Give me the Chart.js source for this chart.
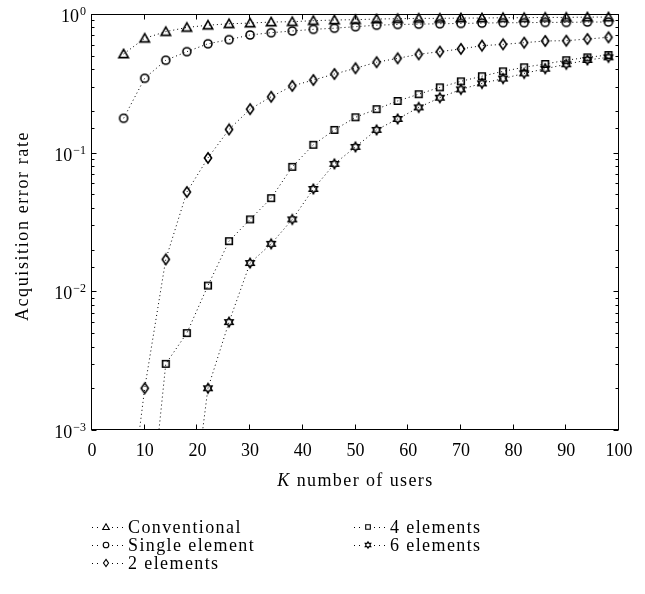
<!DOCTYPE html>
<html>
<head>
<meta charset="utf-8">
<script src="https://cdn.jsdelivr.net/npm/chart.js@4.4.1/dist/chart.umd.min.js"></script>
<style>
  html, body { margin: 0; padding: 0; background: #fff; }
  #wrap { position: relative; width: 645px; height: 594px; }
  #legend { position: absolute; left: 0; top: 0; font-family: 'Liberation Serif', serif; font-size: 18px; letter-spacing: 1.4px; color: #000; }
  .item { position: absolute; height: 18px; line-height: 18px; white-space: nowrap; }
  .item canvas { position: absolute; left: 0; top: 1px; }
  .item span { position: absolute; top: 0; left: 37px; }
</style>
</head>
<body>
<div id="wrap">
  <canvas id="chart" width="645" height="594"></canvas>
  <div id="legend"></div>
</div>
<script>
const users = [6, 10, 14, 18, 22, 26, 30, 34, 38, 42, 46, 50, 54, 58, 62, 66, 70, 74, 78, 82, 86, 90, 94, 98];
const conventional = [0.515, 0.668, 0.746, 0.80, 0.83, 0.85, 0.86, 0.875, 0.88, 0.895, 0.905, 0.91, 0.92, 0.925, 0.93, 0.93, 0.935, 0.935, 0.94, 0.94, 0.945, 0.945, 0.95, 0.95];
const singleElement = [0.177, 0.344, 0.464, 0.535, 0.61, 0.653, 0.706, 0.733, 0.754, 0.775, 0.79, 0.81, 0.83, 0.84, 0.845, 0.85, 0.855, 0.86, 0.865, 0.865, 0.87, 0.87, 0.875, 0.875];
const twoElements = [1.2e-4, 0.002, 0.017, 0.052, 0.0916, 0.147, 0.206, 0.253, 0.303, 0.334, 0.369, 0.406, 0.449, 0.479, 0.512, 0.535, 0.56, 0.591, 0.604, 0.621, 0.639, 0.642, 0.66, 0.679];
const fourElements = [null, 1e-4, 0.003, 0.005, 0.011, 0.023, 0.033, 0.047, 0.079, 0.114, 0.146, 0.18, 0.206, 0.236, 0.264, 0.296, 0.327, 0.356, 0.386, 0.413, 0.436, 0.464, 0.487, 0.506];
const sixElements = [null, null, null, 1.25e-4, 0.002, 0.006, 0.016, 0.022, 0.033, 0.0547, 0.083, 0.11, 0.146, 0.175, 0.212, 0.249, 0.286, 0.316, 0.342, 0.373, 0.403, 0.434, 0.466, 0.487];

const FONT = "'Liberation Serif', serif";

// small outline markers, drawn once and used as point styles
function marker(shape, k = 1) {
    const c = document.createElement('canvas');
    c.width = 14; c.height = 14;
    const g = c.getContext('2d');
    g.strokeStyle = '#000';
    g.lineWidth = 1.6;
    g.translate(7, 7);
    g.scale(k, k);
    g.beginPath();
    if (shape === 'triangle') {
        g.moveTo(0, -4.6); g.lineTo(4.7, 3.6); g.lineTo(-4.7, 3.6); g.closePath();
    } else if (shape === 'circle') {
        g.arc(0, 0, 4, 0, Math.PI * 2);
    } else if (shape === 'diamond') {
        g.moveTo(0, -5.2); g.lineTo(3.6, 0); g.lineTo(0, 5.2); g.lineTo(-3.6, 0); g.closePath();
    } else if (shape === 'square') {
        g.rect(-3.3, -3.3, 6.6, 6.6);
    } else if (shape === 'hexagram') {
        for (let i = 0; i < 12; i++) {
            const r = i % 2 === 0 ? 4.6 : 2.65;
            const a = -Math.PI / 2 + i * Math.PI / 6;
            const px = r * Math.cos(a), py = r * Math.sin(a);
            if (i === 0) g.moveTo(px, py); else g.lineTo(px, py);
        }
        g.closePath();
    }
    g.stroke();
    return c;
}

function series(label, values, shape) {
    return {
        label: label,
        data: users.map((u, i) => ({ x: u, y: values[i] })),
        borderColor: '#000',
        borderWidth: 1,
        borderDash: [1, 3],
        pointStyle: marker(shape),
        pointRadius: 5,
        pointHoverRadius: 5,
        fill: false,
        tension: 0,
        clip: { left: 0, top: 8, right: 8, bottom: 0 },
        shape: shape
    };
}

const datasets = [
    series('Conventional', conventional, 'triangle'),
    series('Single element', singleElement, 'circle'),
    series('2 elements', twoElements, 'diamond'),
    series('4 elements', fourElements, 'square'),
    series('6 elements', sixElements, 'hexagram')
];

// box, inward ticks, power-of-ten labels and axis titles
const frame = {
    id: 'frame',
    afterDraw(chart) {
        const { ctx, chartArea: a, scales: { x, y } } = chart;
        const L = Math.round(a.left) - 0.5, R = Math.round(a.right) - 0.5;
        const T = Math.round(a.top) + 0.5, B = Math.round(a.bottom) - 0.5;
        ctx.save();
        ctx.strokeStyle = '#000';
        ctx.lineWidth = 1;
        ctx.strokeRect(L, T, R - L, B - T);
        ctx.beginPath();
        x.ticks.forEach(t => {
            const px = Math.round(x.getPixelForValue(t.value)) - 0.5;
            ctx.moveTo(px, B); ctx.lineTo(px, B - 5);
            ctx.moveTo(px, T); ctx.lineTo(px, T + 5);
        });
        y.ticks.forEach(t => {
            const lg = Math.log10(t.value);
            const major = Math.abs(lg - Math.round(lg)) < 1e-9;
            const len = major ? 5 : 3;
            const py = Math.round(y.getPixelForValue(t.value)) + 0.5;
            ctx.moveTo(L, py); ctx.lineTo(L + len, py);
            ctx.moveTo(R, py); ctx.lineTo(R - len, py);
        });
        ctx.stroke();

        ctx.fillStyle = '#000';
        ctx.textBaseline = 'alphabetic';
        y.ticks.forEach(t => {
            const lg = Math.log10(t.value);
            if (Math.abs(lg - Math.round(lg)) > 1e-9) return;
            const p = Math.round(lg);
            const py = y.getPixelForValue(t.value);
            const sup = p < 0 ? '\u2212' + (-p) : String(p);
            ctx.font = '12px ' + FONT;
            ctx.textAlign = 'right';
            ctx.fillText(sup, 86, py + 1);
            const sw = ctx.measureText(sup).width;
            ctx.font = '18px ' + FONT;
            ctx.fillText('10', 86 - sw - 1, py + 8);
        });

        ctx.letterSpacing = '1.6px';
        ctx.font = '18px ' + FONT;
        ctx.textAlign = 'center';
        ctx.textBaseline = 'middle';
        ctx.save();
        ctx.translate(23, (a.top + a.bottom) / 2 + 4);
        ctx.rotate(-Math.PI / 2);
        ctx.fillText('Acquisition error rate', 0, 0);
        ctx.restore();

        ctx.letterSpacing = '1.4px';
        const cx = (a.left + a.right) / 2, ty = 481;
        ctx.font = 'italic 18px ' + FONT;
        const kw = ctx.measureText('K').width;
        ctx.font = '18px ' + FONT;
        const rest = ' number of users';
        const rw = ctx.measureText(rest).width;
        const x0 = cx - (kw + rw) / 2;
        ctx.textAlign = 'left';
        ctx.font = 'italic 18px ' + FONT;
        ctx.fillText('K', x0, ty);
        ctx.font = '18px ' + FONT;
        ctx.fillText(rest, x0 + kw, ty);
        ctx.restore();
    }
};

new Chart(document.getElementById('chart').getContext('2d'), {
    type: 'line',
    data: { datasets: datasets },
    options: {
        responsive: false,
        animation: false,
        devicePixelRatio: 1,
        layout: { padding: { top: 14, right: 26, bottom: 0, left: 0 } },
        plugins: { legend: { display: false }, tooltip: { enabled: false } },
        scales: {
            x: {
                type: 'linear', min: 0, max: 100,
                ticks: { stepSize: 10, color: '#000', padding: 10, font: { family: FONT, size: 18 }, maxRotation: 0 },
                grid: { display: false, drawTicks: false },
                border: { display: false },
                afterFit: s => { s.height = 164; }
            },
            y: {
                type: 'logarithmic', min: 0.001, max: 1,
                ticks: { display: false },
                grid: { display: false, drawTicks: false },
                border: { display: false },
                afterFit: s => { s.width = 92; }
            }
        }
    },
    plugins: [frame]
});

// legend in two columns under the plot
const legendSpots = [
    { left: 91, top: 518 }, { left: 91, top: 536 }, { left: 91, top: 554 },
    { left: 353, top: 518 }, { left: 353, top: 536 }
];
const legend = document.getElementById('legend');
datasets.forEach((ds, i) => {
    const item = document.createElement('div');
    item.className = 'item';
    item.style.left = legendSpots[i].left + 'px';
    item.style.top = legendSpots[i].top + 'px';
    const c = document.createElement('canvas');
    c.width = 32; c.height = 16;
    const g = c.getContext('2d');
    g.strokeStyle = '#000';
    g.lineWidth = 1;
    g.setLineDash([1, 4]);
    g.beginPath(); g.moveTo(1, 8.5); g.lineTo(32, 8.5); g.stroke();
    g.clearRect(10, 3, 9, 11);
    g.drawImage(marker(ds.shape, 0.7), 8, 1);
    const label = document.createElement('span');
    label.textContent = ds.label;
    item.appendChild(c);
    item.appendChild(label);
    legend.appendChild(item);
});
</script>
</body>
</html>
